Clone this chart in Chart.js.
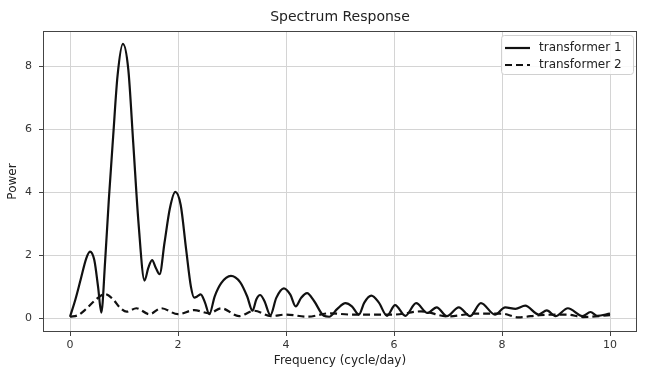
<!DOCTYPE html>
<html>
<head>
<meta charset="utf-8">
<script src="https://cdn.jsdelivr.net/npm/chart.js@4/dist/chart.umd.min.js"></script>
<style>
  html, body { margin: 0; padding: 0; background: #fff; }
  #wrap { width: 652px; height: 369px; position: relative; }
</style>
</head>
<body>
<div id="wrap"><canvas id="c"></canvas></div>
<script>
// ---- data ----
const titleText = 'Spectrum Response';
const xTitle = 'Frequency (cycle/day)';
const yTitle = 'Power';
const seriesNames = ['transformer 1', 'transformer 2'];

const freq1 = [0, 0.1, 0.2, 0.3, 0.37, 0.45, 0.52, 0.58, 0.65, 0.72, 0.8, 0.88, 0.98, 1.08, 1.17, 1.27, 1.38, 1.45, 1.52, 1.59, 1.66,
  1.75, 1.85, 1.95, 2.05, 2.15, 2.24, 2.3, 2.36, 2.42, 2.5, 2.58, 2.68, 2.8, 2.98, 3.15, 3.28, 3.38, 3.45, 3.52, 3.6, 3.71,
  3.82, 3.96, 4.08, 4.18, 4.28, 4.39, 4.52, 4.7, 4.8, 4.95, 5.1, 5.22, 5.35, 5.45, 5.58, 5.72, 5.87, 6.02, 6.21, 6.41, 6.62,
  6.79, 6.98, 7.2, 7.41, 7.61, 7.87, 8.06, 8.25, 8.43, 8.68, 8.83, 8.99, 9.22, 9.49, 9.64, 9.76, 10];
const power1 = [0.05, 0.6, 1.25, 1.9, 2.12, 1.85, 1.0, 0.18, 1.8, 3.8, 5.8, 7.7, 8.72, 7.9, 5.6, 3.0, 1.2, 1.6, 1.85, 1.6, 1.4,
  2.4, 3.5, 4.02, 3.6, 2.2, 1.0, 0.66, 0.7, 0.76, 0.5, 0.13, 0.7, 1.12, 1.35, 1.15, 0.7, 0.24, 0.6, 0.74, 0.55, 0.1,
  0.65, 0.95, 0.75, 0.38, 0.65, 0.8, 0.55, 0.08, 0.05, 0.3, 0.48, 0.38, 0.12, 0.5, 0.72, 0.5, 0.08, 0.42, 0.08, 0.48, 0.17,
  0.35, 0.07, 0.35, 0.07, 0.48, 0.12, 0.35, 0.3, 0.4, 0.12, 0.25, 0.07, 0.32, 0.07, 0.2, 0.08, 0.15];

const freq2 = [0, 0.15, 0.3, 0.45, 0.65, 0.8, 0.92, 1.05, 1.23, 1.47, 1.69, 2.0, 2.3, 2.58, 2.8, 3.13, 3.41, 3.72, 4.0, 4.4,
  4.8, 5.2, 5.6, 6.0, 6.5, 7.0, 7.5, 8.0, 8.3, 8.7, 9.2, 9.5, 10];
const power2 = [0.05, 0.1, 0.3, 0.55, 0.77, 0.6, 0.35, 0.21, 0.32, 0.13, 0.32, 0.13, 0.26, 0.16, 0.32, 0.07, 0.24, 0.07, 0.12, 0.05,
  0.16, 0.12, 0.12, 0.12, 0.22, 0.06, 0.15, 0.15, 0.03, 0.1, 0.12, 0.04, 0.1];

const xTicks = [0, 2, 4, 6, 8, 10];
const yTicks = [0, 2, 4, 6, 8];

// ---- chart ----
const FONT = "'DejaVu Sans', sans-serif";
const toPts = (xs, ys) => xs.map((x, i) => ({ x: x, y: ys[i] }));

const framePlugin = {
  id: 'frame',
  afterDatasetsDraw(chart) {
    const a = chart.chartArea, ctx = chart.ctx;
    ctx.save();
    ctx.strokeStyle = '#444';
    ctx.lineWidth = 1;
    ctx.strokeRect(Math.round(a.left) + 0.5, Math.round(a.top) + 0.5,
      Math.round(a.right - a.left) - 1, Math.round(a.bottom - a.top) - 1);
    ctx.restore();
  },
  afterDraw(chart) {
    const a = chart.chartArea, ctx = chart.ctx;
    ctx.save();
    ctx.fillStyle = '#222';
    ctx.font = '14px ' + FONT;
    ctx.textAlign = 'center';
    ctx.textBaseline = 'middle';
    ctx.fillText(titleText, (a.left + a.right) / 2, 17);
    const bx = 501, by = 35, bw = 132, bh = 39;
    ctx.fillStyle = 'rgba(255,255,255,0.85)';
    ctx.strokeStyle = '#d0d0d0';
    ctx.lineWidth = 1;
    ctx.beginPath();
    ctx.roundRect(bx + 0.5, by + 0.5, bw, bh, 3);
    ctx.fill();
    ctx.stroke();
    const rows = [48, 65];
    chart.data.datasets.forEach((ds, i) => {
      ctx.strokeStyle = '#111';
      ctx.lineWidth = 2.2;
      ctx.setLineDash(ds.borderDash || []);
      ctx.beginPath();
      ctx.moveTo(505, rows[i]);
      ctx.lineTo(530, rows[i]);
      ctx.stroke();
      ctx.setLineDash([]);
      ctx.fillStyle = '#222';
      ctx.font = '12px ' + FONT;
      ctx.textAlign = 'left';
      ctx.textBaseline = 'middle';
      ctx.fillText(ds.label, 539, rows[i]);
    });
    ctx.restore();
  }
};

new Chart(document.getElementById('c'), {
  type: 'line',
  data: {
    datasets: [
      {
        label: seriesNames[0],
        data: toPts(freq1, power1),
        borderColor: '#111',
        borderWidth: 2.2,
        pointRadius: 0,
        fill: false,
        cubicInterpolationMode: 'monotone'
      },
      {
        label: seriesNames[1],
        data: toPts(freq2, power2),
        borderColor: '#111',
        borderWidth: 2.2,
        borderDash: [7, 4],
        pointRadius: 0,
        fill: false,
        cubicInterpolationMode: 'monotone'
      }
    ]
  },
  options: {
    responsive: true,
    maintainAspectRatio: false,
    animation: false,
    devicePixelRatio: 1,
    layout: { padding: { top: 31, right: 15, left: 0, bottom: 0 } },
    plugins: {
      legend: { display: false },
      title: { display: false },
      tooltip: { enabled: false }
    },
    scales: {
      x: {
        type: 'linear',
        min: -0.5,
        max: 10.5,
        afterBuildTicks: s => { s.ticks = xTicks.map(v => ({ value: v })); },
        afterFit: s => { s.height = 37; },
        grid: { color: '#d4d4d4', lineWidth: 1, tickLength: 4, tickColor: '#444', drawTicks: true },
        border: { display: false },
        ticks: { font: { family: FONT, size: 11 }, color: '#333', padding: 3, maxRotation: 0 },
        title: { display: true, text: xTitle, font: { family: FONT, size: 12 }, color: '#222', padding: { top: 0, bottom: 1 } }
      },
      y: {
        type: 'linear',
        min: -0.435,
        max: 9.13,
        afterBuildTicks: s => { s.ticks = yTicks.map(v => ({ value: v })); },
        afterFit: s => { s.width = 43; },
        grid: { color: '#d4d4d4', lineWidth: 1, tickLength: 4, tickColor: '#444', drawTicks: true },
        border: { display: false },
        ticks: { font: { family: FONT, size: 11 }, color: '#333', padding: 7 },
        title: { display: true, text: yTitle, font: { family: FONT, size: 12 }, color: '#222', padding: { top: 6, bottom: 0 } }
      }
    }
  },
  plugins: [framePlugin]
});
</script>
</body>
</html>
